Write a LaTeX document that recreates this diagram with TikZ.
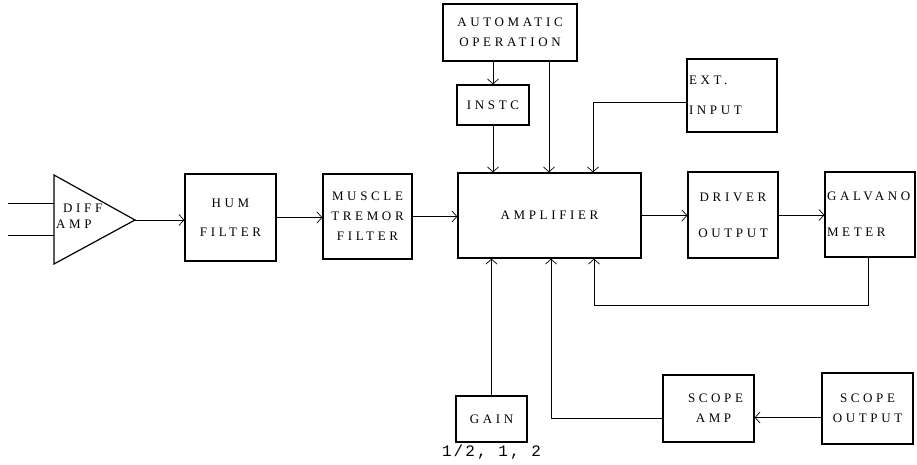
\documentclass[tikz,border=0pt]{standalone}
\usepackage{fontspec}
\newfontfamily\boxfont[LetterSpace=28]{Liberation Serif}
\newfontfamily\gainfont[LetterSpace=13]{Liberation Mono}
\usetikzlibrary{arrows.meta, positioning, calc}

\begin{document}
\begin{tikzpicture}[x=1pt, y=-1pt, font=\boxfont\fontsize{13}{20}\selectfont,
    box/.style={draw, line width=1.2pt, minimum width=#1, align=center, inner sep=1pt},
    box/.default=90pt,
    arrow/.style={-{Straight Barb[length=5pt, width=11pt]}, line width=0.7pt},
    wire/.style={line width=0.7pt}]
    \useasboundingbox (0,0) rectangle (917,465);

    \coordinate (inA) at (8,203);
    \coordinate (inB) at (8,235);
    \coordinate (triTop) at (54,175);
    \coordinate (triBot) at (54,264);
    \coordinate (tip) at (135,220);
    \draw[line width=1.2pt, line join=miter] (triTop) -- (tip) -- (triBot) -- cycle;
    \draw[wire] (inA) -- (inA -| triTop);
    \draw[wire] (inB) -- (inB -| triTop);
    \node[anchor=base west, inner sep=0] (diff) at (63,212) {DIFF};
    \node[anchor=base west, inner sep=0] (diffamp) at (56,228) {AMP};

    \node[box=91pt, minimum height=87pt] (hum) at (230.5,217.5) {HUM\\[9pt]FILTER};
    \node[box=89pt, minimum height=85pt] (muscle) at (367.5,216.5) {MUSCLE\\TREMOR\\FILTER};
    \node[box=183pt, minimum height=85pt] (amp) at (549.5,215.5) {AMPLIFIER};
    \node[box=90pt, minimum height=86pt] (driver) at (733,215) {DRIVER\\[16pt]OUTPUT};
    \node[box=90pt, minimum height=85pt, align=left, text width=86pt] (galv) at (870,214.5) {GALVANO\\[16pt]METER};
    \node[box=134pt, minimum height=57pt] (auto) at (510,32.5) {AUTOMATIC\\OPERATION};
    \node[box=72pt, minimum height=40pt] (instc) at (493,105) {INSTC};
    \node[box=90pt, minimum height=73pt, align=left, text width=86pt] (ext) at (732,95.5) {EXT.\\[10pt]INPUT};
    \node[box=71pt, minimum height=46pt] (gain) at (491.5,419) {GAIN};
    \node[box=91pt, minimum height=67pt] (scopeamp) at (708.5,408.5) {\hspace*{14pt}SCOPE\\\hspace*{10pt}AMP};
    \node[box=91pt, minimum height=71pt] (scopeout) at (867.5,408.5) {SCOPE\\OUTPUT};
    \node[font=\gainfont\fontsize{16}{18}\selectfont, below=2pt of gain, inner sep=0] (gainval) {1/2, 1, 2};

    \draw[arrow] (tip) -- (tip -| hum.west);
    \draw[arrow] (hum.east) -- (hum.east -| muscle.west);
    \draw[arrow] (muscle.east) -- (muscle.east -| amp.west);
    \draw[arrow] (amp.east) -- (amp.east -| driver.west);
    \draw[arrow] (driver.east) -- (driver.east -| galv.west);

    \draw[arrow] (instc.north |- auto.south) -- (instc.north);
    \draw[arrow] (instc.south) -- (instc.south |- amp.north);
    \draw[arrow] ([xshift=39pt]auto.south) -- ([xshift=39pt]auto.south |- amp.north);
    \draw[arrow] ([yshift=-7pt]ext.west) -| ([xshift=43.5pt]amp.north);

    \draw[arrow] (gain.north) -- (gain.north |- amp.south);
    \draw[arrow] ([yshift=-10pt]scopeamp.west) -| ([xshift=1.5pt]amp.south);
    \draw[arrow] ([yshift=-9pt]scopeout.west) -- ([yshift=-9pt]scopeamp.east);
    \draw[arrow] ([xshift=-2pt]galv.south) |- ([xshift=44.5pt,yshift=-47pt]amp.south) -- ([xshift=44.5pt]amp.south);
\end{tikzpicture}
\end{document}
